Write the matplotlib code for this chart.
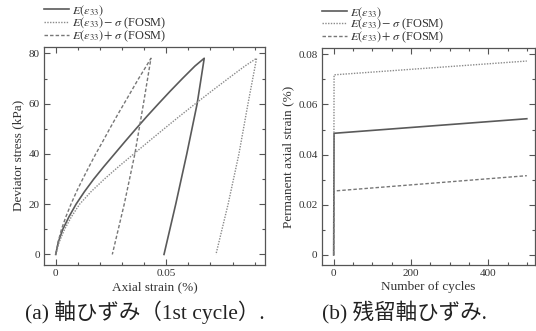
import matplotlib
matplotlib.use("Agg")
from matplotlib import pyplot as plt
from matplotlib.ticker import MultipleLocator, FuncFormatter

plt.rcParams['font.family'] = ['Liberation Serif', 'Noto Sans CJK JP']
plt.rcParams['mathtext.fontset'] = 'stix'

# (a) first loading cycle: stress (kPa) vs axial strain (%)
stress = [0, 5, 10, 15, 20, 25, 30, 35, 40, 45, 50, 55, 60, 65, 70, 75, 78.1]
strain_mean = [0, 0.0012, 0.0032, 0.0060, 0.0092, 0.0130, 0.0172, 0.0218, 0.0266,
               0.0314, 0.0363, 0.0413, 0.0465, 0.0518, 0.0573, 0.0630, 0.0672]
strain_minus = [0, 0.0016, 0.0040, 0.0071, 0.0108, 0.0160, 0.0220, 0.0285, 0.0353,
                0.0421, 0.0490, 0.0560, 0.0632, 0.0705, 0.0780, 0.0856, 0.0909]
strain_plus = [0, 0.0011, 0.0026, 0.0046, 0.0069, 0.0094, 0.0122, 0.0151, 0.0181,
               0.0213, 0.0244, 0.0276, 0.0309, 0.0342, 0.0375, 0.0410, 0.0431]

unload_stress = [78.1, 60, 40, 20, 0]
unload_mean = [0.0672, 0.0640, 0.0593, 0.0543, 0.0490]
unload_minus = [0.0909, 0.0870, 0.0829, 0.0780, 0.0725]
unload_plus = [0.0431, 0.0397, 0.0358, 0.0310, 0.0256]

# (b) permanent axial strain vs cycles
cycles = [0, 1, 500]
perm_mean = [0, 0.0485, 0.0543]
perm_minus = [0, 0.0718, 0.0773]
perm_plus = [0, 0.0255, 0.0316]

labels = [r'$E(\varepsilon_{33})$',
          r'$E(\varepsilon_{33})-\sigma$ (FOSM)',
          r'$E(\varepsilon_{33})+\sigma$ (FOSM)']

txt = '#333333'
c_mean = '#5a5a5a'
c_minus = '#8a8a8a'
c_plus = '#777777'
ls_minus = (0, (1, 1))
ls_plus = (0, (2.5, 1.5))

fig = plt.figure(figsize=(5.36, 3.31), dpi=100)
ax1 = fig.add_axes([0.0821, 0.1994, 0.4123, 0.6595])
ax2 = fig.add_axes([0.6002, 0.1994, 0.3978, 0.6541])

ax1.plot(strain_mean + unload_mean[1:], stress + unload_stress[1:],
         color=c_mean, lw=1.2, label=labels[0])
ax1.plot(strain_minus + unload_minus[1:], stress + unload_stress[1:],
         color=c_minus, lw=1.0, linestyle=ls_minus, label=labels[1])
ax1.plot(strain_plus + unload_plus[1:], stress + unload_stress[1:],
         color=c_plus, lw=1.0, linestyle=ls_plus, label=labels[2])
ax1.set_xlim(-0.0053, 0.0947)
ax1.set_ylim(-4.2, 82.7)
ax1.xaxis.set_major_locator(MultipleLocator(0.05))
ax1.xaxis.set_minor_locator(MultipleLocator(0.01))
ax1.yaxis.set_major_locator(MultipleLocator(20))
ax1.yaxis.set_minor_locator(MultipleLocator(10))
ax1.set_xlabel('Axial strain (%)', fontsize=9.5, color=txt, labelpad=2)
ax1.set_ylabel('Deviator stress (kPa)', fontsize=9.5, color=txt, labelpad=3)

ax2.plot(cycles, perm_mean, color=c_mean, lw=1.2, label=labels[0])
ax2.plot(cycles, perm_minus, color=c_minus, lw=1.0, linestyle=ls_minus, label=labels[1])
ax2.plot(cycles, perm_plus, color=c_plus, lw=1.0, linestyle=ls_plus, label=labels[2])
ax2.set_xlim(-31, 521)
ax2.set_ylim(-0.004, 0.0823)
ax2.xaxis.set_major_locator(MultipleLocator(200))
ax2.xaxis.set_minor_locator(MultipleLocator(50))
ax2.yaxis.set_major_locator(MultipleLocator(0.02))
ax2.yaxis.set_minor_locator(MultipleLocator(0.01))
ax2.set_xlabel('Number of cycles', fontsize=9.5, color=txt, labelpad=2)
ax2.set_ylabel('Permanent axial strain (%)', fontsize=9.5, color=txt, labelpad=3)

fmt = FuncFormatter(lambda v, p: '%g' % round(v, 6))
for ax in (ax1, ax2):
    ax.xaxis.set_major_formatter(fmt)
    ax.yaxis.set_major_formatter(fmt)
    ax.tick_params(which='both', direction='in', top=True, right=True,
                   colors='#555555', labelcolor=txt, labelsize=8, pad=3)
    ax.tick_params(which='major', length=4, width=0.8)
    ax.tick_params(which='minor', length=2.5, width=0.8)
    for s in ax.spines.values():
        s.set_color('#555555')
        s.set_linewidth(0.9)
    leg = ax.legend(loc='lower left', bbox_to_anchor=(-0.015, 1.0), frameon=False,
                    fontsize=8.8, handlelength=2.1, handletextpad=0.25,
                    labelspacing=-0.2, borderaxespad=0.15, borderpad=0.1)
    for t in leg.get_texts():
        t.set_color(txt)

fig.text(0.27, 0.058, '(a) 軸ひずみ（1st cycle）.', ha='center', va='center',
         fontsize=15.5, color='#222222')
fig.text(0.754, 0.058, '(b) 残留軸ひずみ.', ha='center', va='center',
         fontsize=15.5, color='#222222')

fig.savefig('out.png', dpi=100)
